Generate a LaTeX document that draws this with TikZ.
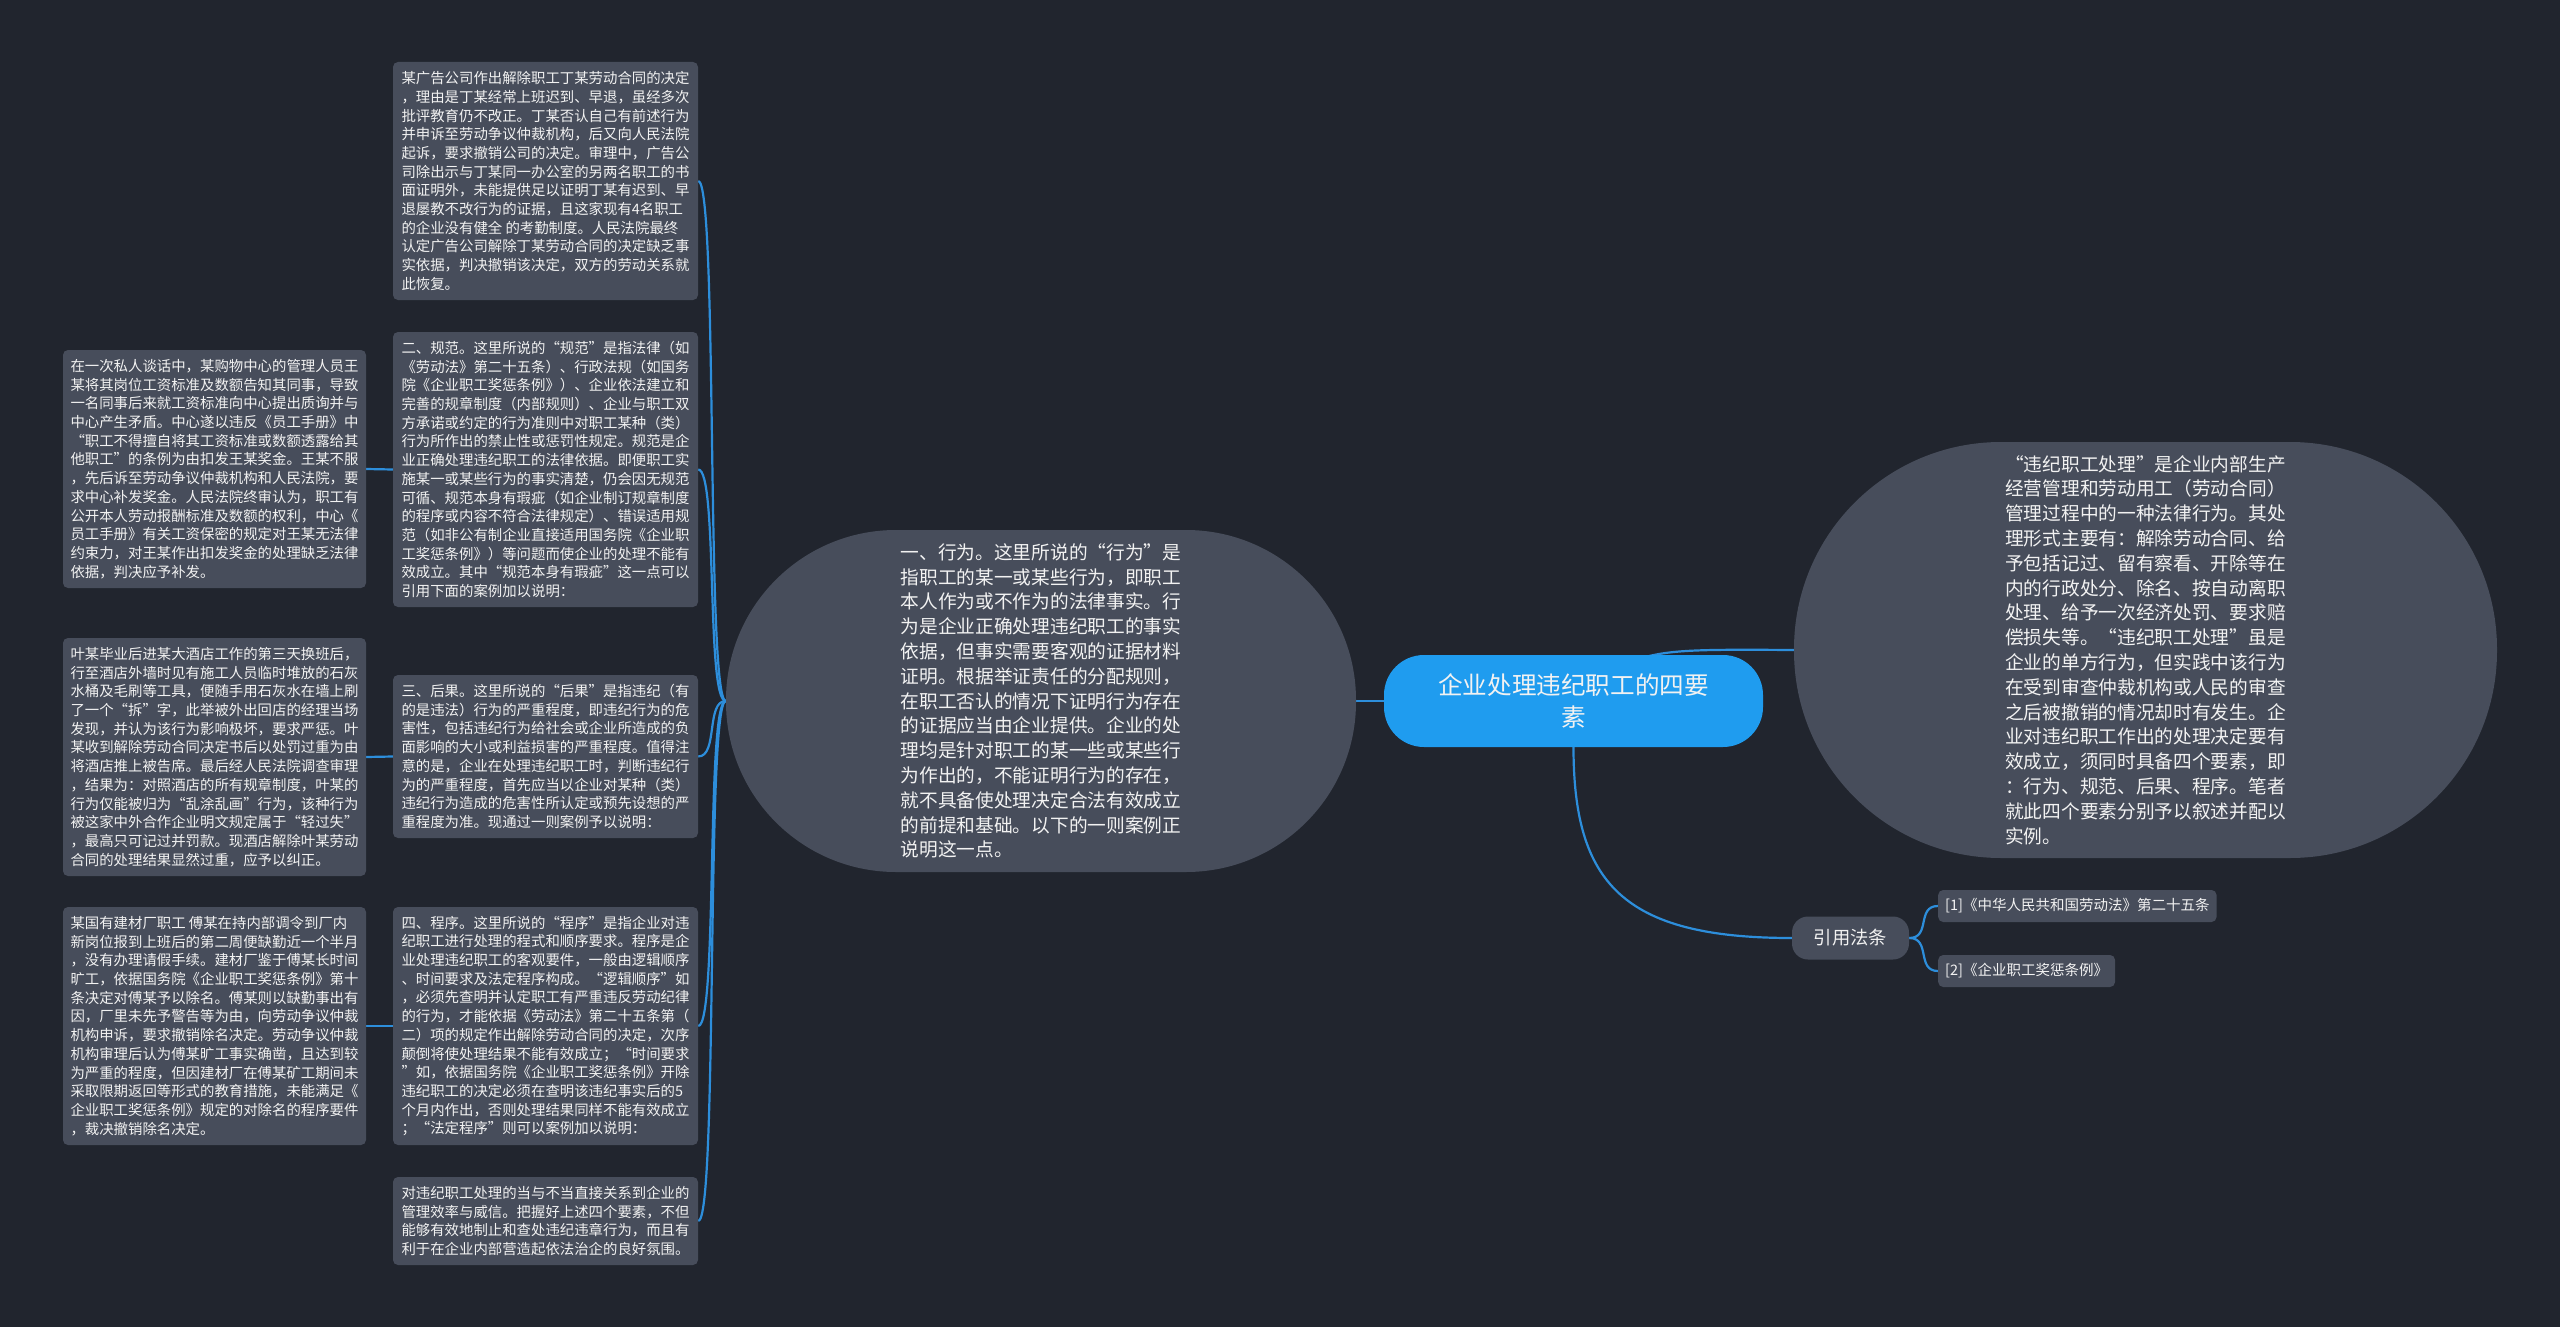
\documentclass[tikz,border=0pt]{standalone}
\usepackage{fontspec}
\setmainfont{Noto Sans CJK SC}
\definecolor{bgnavy}{HTML}{21252E}
\definecolor{slate}{HTML}{474D5B}
\definecolor{skyblue}{HTML}{1F9CEF}
\definecolor{linkblue}{HTML}{2D8EDB}
\definecolor{paper}{HTML}{F2F2F2}
\pgfdeclarelayer{bg}
\pgfsetlayers{bg,main}

\begin{document}
\begin{tikzpicture}[
  x=1pt, y=-1pt,
  every node/.style={text=paper},
  leaf/.style={fill=slate, rounded corners=5pt, minimum width=305pt, align=left, inner sep=0pt, font=\fontsize{14.4}{18.7}\selectfont},
  bubble/.style={fill=slate, align=left, inner sep=0pt, font=\fontsize{18.7}{24.8}\selectfont},
  link/.style={linkblue, line width=2.2pt},
]

% Background
\useasboundingbox (0,0) rectangle (2560,1327);
\begin{pgfonlayer}{bg}
\fill[bgnavy] (0,0) rectangle (2560,1327);
\end{pgfonlayer}

% Central topic
\node[fill=skyblue, rounded corners=40pt, minimum width=379pt, minimum height=92pt, align=center, inner sep=0pt, font=\fontsize{24.6}{32}\selectfont] (root) at (1573.5,701) {企业处理违纪职工的四要\\素};

% Overview (right)
\node[bubble, rounded corners=207pt, minimum width=703pt, minimum height=416pt] (intro) at (2145.5,650) {“违纪职工处理”是企业内部生产\\经营管理和劳动用工（劳动合同）\\管理过程中的一种法律行为。其处\\理形式主要有：解除劳动合同、给\\予包括记过、留有察看、开除等在\\内的行政处分、除名、按自动离职\\处理、给予一次经济处罚、要求赔\\偿损失等。“违纪职工处理”虽是\\企业的单方行为，但实践中该行为\\在受到审查仲裁机构或人民的审查\\之后被撤销的情况却时有发生。企\\业对违纪职工作出的处理决定要有\\效成立，须同时具备四个要素，即\\：行为、规范、后果、程序。笔者\\就此四个要素分别予以叙述并配以\\实例。};

% First element (left)
\node[bubble, rounded corners=170pt, minimum width=630pt, minimum height=342pt] (act) at (1041,701) {一、行为。这里所说的“行为”是\\指职工的某一或某些行为，即职工\\本人作为或不作为的法律事实。行\\为是企业正确处理违纪职工的事实\\依据，但事实需要客观的证据材料\\证明。根据举证责任的分配规则，\\在职工否认的情况下证明行为存在\\的证据应当由企业提供。企业的处\\理均是针对职工的某一些或某些行\\为作出的，不能证明行为的存在，\\就不具备使处理决定合法有效成立\\的前提和基础。以下的一则案例正\\说明这一点。};

% Middle column
\node[leaf, minimum height=238pt] (caseding) at (545.5,181) {某广告公司作出解除职工丁某劳动合同的决定\\，理由是丁某经常上班迟到、早退，虽经多次\\批评教育仍不改正。丁某否认自己有前述行为\\并申诉至劳动争议仲裁机构，后又向人民法院\\起诉，要求撤销公司的决定。审理中，广告公\\司除出示与丁某同一办公室的另两名职工的书\\面证明外，未能提供足以证明丁某有迟到、早\\退屡教不改行为的证据，且这家现有4名职工\\的企业没有健全 的考勤制度。人民法院最终\\认定广告公司解除丁某劳动合同的决定缺乏事\\实依据，判决撤销该决定，双方的劳动关系就\\此恢复。};

\node[leaf, minimum height=275pt] (norm) at (545.5,469.5) {二、规范。这里所说的“规范”是指法律（如\\《劳动法》第二十五条）、行政法规（如国务\\院《企业职工奖惩条例》）、企业依法建立和\\完善的规章制度（内部规则）、企业与职工双\\方承诺或约定的行为准则中对职工某种（类）\\行为所作出的禁止性或惩罚性规定。规范是企\\业正确处理违纪职工的法律依据。即便职工实\\施某一或某些行为的事实清楚，仍会因无规范\\可循、规范本身有瑕疵（如企业制订规章制度\\的程序或内容不符合法律规定）、错误适用规\\范（如非公有制企业直接适用国务院《企业职\\工奖惩条例》）等问题而使企业的处理不能有\\效成立。其中“规范本身有瑕疵”这一点可以\\引用下面的案例加以说明：};

\node[leaf, minimum height=163pt] (result) at (545.5,756.5) {三、后果。这里所说的“后果”是指违纪（有\\的是违法）行为的严重程度，即违纪行为的危\\害性，包括违纪行为给社会或企业所造成的负\\面影响的大小或利益损害的严重程度。值得注\\意的是，企业在处理违纪职工时，判断违纪行\\为的严重程度，首先应当以企业对某种（类）\\违纪行为造成的危害性所认定或预先设想的严\\重程度为准。现通过一则案例予以说明：};

\node[leaf, minimum height=238pt] (proc) at (545.5,1026) {四、程序。这里所说的“程序”是指企业对违\\纪职工进行处理的程式和顺序要求。程序是企\\业处理违纪职工的客观要件，一般由逻辑顺序\\、时间要求及法定程序构成。“逻辑顺序”如\\，必须先查明并认定职工有严重违反劳动纪律\\的行为，才能依据《劳动法》第二十五条第（\\二）项的规定作出解除劳动合同的决定，次序\\颠倒将使处理结果不能有效成立；“时间要求\\”如，依据国务院《企业职工奖惩条例》开除\\违纪职工的决定必须在查明该违纪事实后的5\\个月内作出，否则处理结果同样不能有效成立\\；“法定程序”则可以案例加以说明：};

\node[leaf, minimum height=88pt] (summary) at (545.5,1221) {对违纪职工处理的当与不当直接关系到企业的\\管理效率与威信。把握好上述四个要素，不但\\能够有效地制止和查处违纪违章行为，而且有\\利于在企业内部营造起依法治企的良好氛围。};

% Left column: cases
\node[leaf, minimum width=303pt, minimum height=238pt] (casewang) at (214.5,469) {在一次私人谈话中，某购物中心的管理人员王\\某将其岗位工资标准及数额告知其同事，导致\\一名同事后来就工资标准向中心提出质询并与\\中心产生矛盾。中心遂以违反《员工手册》中\\“职工不得擅自将其工资标准或数额透露给其\\他职工”的条例为由扣发王某奖金。王某不服\\，先后诉至劳动争议仲裁机构和人民法院，要\\求中心补发奖金。人民法院终审认为，职工有\\公开本人劳动报酬标准及数额的权利，中心《\\员工手册》有关工资保密的规定对王某无法律\\约束力，对王某作出扣发奖金的处理缺乏法律\\依据，判决应予补发。};

\node[leaf, minimum width=303pt, minimum height=238pt] (caseye) at (214.5,757) {叶某毕业后进某大酒店工作的第三天换班后，\\行至酒店外墙时见有施工人员临时堆放的石灰\\水桶及毛刷等工具，便随手用石灰水在墙上刷\\了一个“拆”字，此举被外出回店的经理当场\\发现，并认为该行为影响极坏，要求严惩。叶\\某收到解除劳动合同决定书后以处罚过重为由\\将酒店推上被告席。最后经人民法院调查审理\\，结果为：对照酒店的所有规章制度，叶某的\\行为仅能被归为“乱涂乱画”行为，该种行为\\被这家中外合作企业明文规定属于“轻过失”\\，最高只可记过并罚款。现酒店解除叶某劳动\\合同的处理结果显然过重，应予以纠正。};

\node[leaf, minimum width=303pt, minimum height=238pt] (casefu) at (214.5,1026) {某国有建材厂职工 傅某在持内部调令到厂内\\新岗位报到上班后的第二周便缺勤近一个半月\\，没有办理请假手续。建材厂鉴于傅某长时间\\旷工，依据国务院《企业职工奖惩条例》第十\\条决定对傅某予以除名。傅某则以缺勤事出有\\因，厂里未先予警告等为由，向劳动争议仲裁\\机构申诉，要求撤销除名决定。劳动争议仲裁\\机构审理后认为傅某旷工事实确凿，且达到较\\为严重的程度，但因建材厂在傅某矿工期间未\\采取限期返回等形式的教育措施，未能满足《\\企业职工奖惩条例》规定的对除名的程序要件\\，裁决撤销除名决定。};

% Cited laws
\node[fill=slate, rounded corners=16pt, minimum width=117pt, minimum height=43pt, inner sep=0pt, font=\fontsize{18.3}{22}\selectfont] (laws) at (1850.5,938) {引用法条};
\node[fill=slate, rounded corners=5pt, minimum height=32pt, inner xsep=7pt, inner ysep=0pt, anchor=west, font=\fontsize{14.5}{18}\selectfont] (law1) at (1938,906) {[1]《中华人民共和国劳动法》第二十五条};
\node[fill=slate, rounded corners=5pt, minimum height=32pt, inner xsep=7pt, inner ysep=0pt, anchor=west, font=\fontsize{14.5}{18}\selectfont] (law2) at (1938,971) {[2]《企业职工奖惩条例》};

% Connectors
\begin{pgfonlayer}{bg}
\draw[link] (act.east) -- (root.west);
\draw[link] (root.center) .. controls (1640,649) .. (intro.west);
\draw[link] (root.south) .. controls +(0,135) and +(-170,0) .. (laws.west);
\draw[link] (laws.east) .. controls +(22,0) and +(-22,0) .. (law1.west);
\draw[link] (laws.east) .. controls +(22,0) and +(-22,0) .. (law2.west);
\foreach \kid in {caseding,norm,result,proc,summary}
  \draw[link] (act.west) .. controls +(-20,0) and +(20,0) .. (\kid.east);
\draw[link] (norm.west) -- (casewang.east);
\draw[link] (result.west) -- (caseye.east);
\draw[link] (proc.west) -- (casefu.east);
\end{pgfonlayer}

\end{tikzpicture}
\end{document}
